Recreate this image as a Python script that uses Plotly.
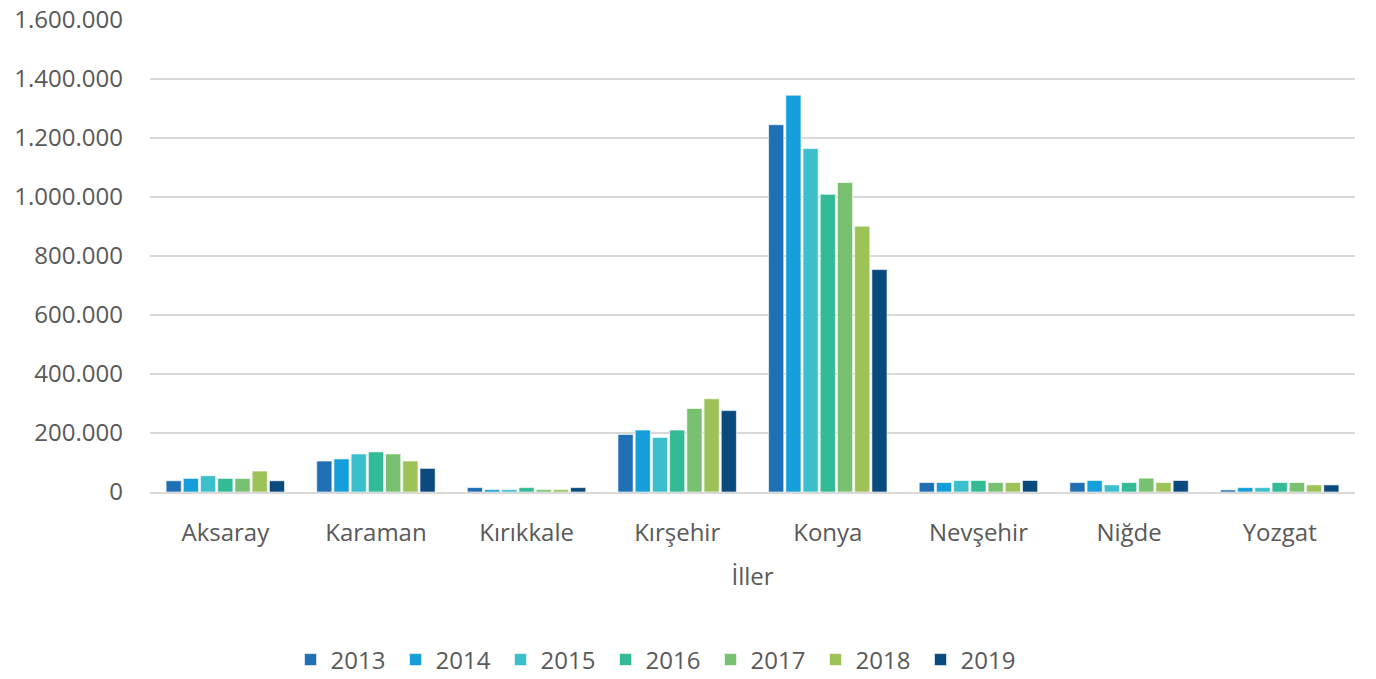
import plotly.graph_objects as go

provinces = ["Aksaray", "Karaman", "Kırıkkale", "Kırşehir", "Konya", "Nevşehir", "Niğde", "Yozgat"]
years = ["2013", "2014", "2015", "2016", "2017", "2018", "2019"]

v2013 = [38000, 105000, 15000, 195000, 1245000, 32000, 32000, 7000]
v2014 = [46000, 112000, 8000, 210000, 1345000, 32000, 39000, 15000]
v2015 = [55000, 129000, 8000, 185000, 1164000, 39000, 24000, 15000]
v2016 = [46000, 136000, 15000, 210000, 1009000, 39000, 32000, 32000]
v2017 = [46000, 129000, 8000, 283000, 1049000, 32000, 47000, 32000]
v2018 = [71000, 105000, 8000, 316000, 901000, 32000, 32000, 24000]
v2019 = [38000, 80000, 15000, 276000, 754000, 39000, 39000, 24000]

series = [v2013, v2014, v2015, v2016, v2017, v2018, v2019]
colors = ["#1F6FB5", "#159FDA", "#3BBFCC", "#33BA96", "#78C170", "#9CC258", "#0B4A7C"]

fig = go.Figure()
for year, vals, col in zip(years, series, colors):
    fig.add_trace(go.Bar(
        x=provinces, y=vals, name=year,
        marker=dict(color=col, line=dict(color="rgba(255,255,255,0.6)", width=1)),
    ))

font_family = "Open Sans, DejaVu Sans, sans-serif"
txt = "#595959"
fig.update_layout(
    width=1376, height=679,
    margin=dict(l=150, r=21, t=20, b=187),
    paper_bgcolor="white", plot_bgcolor="white",
    barmode="group", bargap=0.2, bargroupgap=0.12,
    separators=",.",
    font=dict(family=font_family, size=24, color=txt),
    showlegend=True,
    legend=dict(orientation="h", x=0.4216, xanchor="center",
                yref="container", y=0.028, yanchor="middle",
                font=dict(size=24, color=txt), entrywidth=60, traceorder="normal"),
    xaxis=dict(
        title=dict(text="İller", font=dict(size=24, color=txt), standoff=22),
        showline=True, linecolor="#d9d9d9", linewidth=1.5,
        tickfont=dict(size=24, color=txt), ticks="", ticklabelstandoff=18,
        automargin=False,
    ),
    yaxis=dict(
        range=[0, 1600000], dtick=200000, tickformat=",d",
        showgrid=True, gridcolor="#d9d9d9", gridwidth=1.5,
        zeroline=False, showline=False,
        tickfont=dict(size=24, color=txt), ticklabelstandoff=26,
        automargin=False,
    ),
)

fig.write_html("out.html")
